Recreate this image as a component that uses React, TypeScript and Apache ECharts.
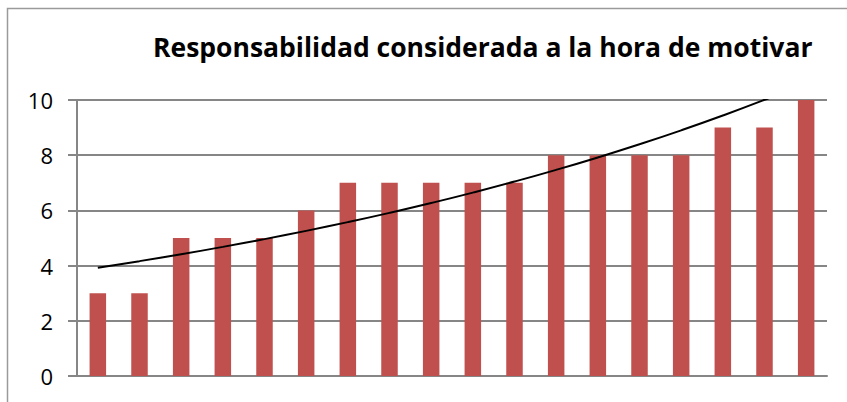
import React, { useEffect, useRef } from "react";
import * as echarts from "echarts";

const categories: string[] = ["1", "2", "3", "4", "5", "6", "7", "8", "9", "10", "11", "12", "13", "14", "15", "16", "17", "18"];
const values: number[] = [3, 3, 5, 5, 5, 6, 7, 7, 7, 7, 7, 8, 8, 8, 8, 9, 9, 10];
const yTicks: number[] = [0, 2, 4, 6, 8, 10];
const titleText = "Responsabilidad considerada a la hora de motivar";

// Exponential trendline (least squares on ln y), as Excel does
function expTrend(vals: number[]): number[] {
  const n = vals.length;
  const xs = vals.map((_, i) => i);
  const ls = vals.map((v) => Math.log(v));
  const mx = xs.reduce((a, b) => a + b, 0) / n;
  const my = ls.reduce((a, b) => a + b, 0) / n;
  let sxy = 0, sxx = 0;
  for (let i = 0; i < n; i++) {
    sxy += (xs[i] - mx) * (ls[i] - my);
    sxx += (xs[i] - mx) * (xs[i] - mx);
  }
  const b = sxy / sxx;
  const a = my - b * mx;
  return xs.map((x) => Math.exp(a + b * x));
}

export default function App() {
  const ref = useRef<HTMLDivElement>(null);
  useEffect(() => {
    document.body.style.margin = "0";
    const chart = echarts.init(ref.current!, null, { renderer: "svg" });
    const trend = expTrend(values);
    chart.setOption({
      animation: false,
      backgroundColor: "#ffffff",
      title: {
        text: titleText,
        left: 148,
        top: 28,
        textStyle: { fontFamily: "'Open Sans', sans-serif", fontWeight: "bold", fontSize: 26.5, color: "#000" },
      },
      graphic: [
        {
          type: "rect",
          shape: { x: 7.5, y: 8.5, width: 900, height: 500 },
          style: { fill: "none", stroke: "#9a9a9a", lineWidth: 1.5 },
          silent: true,
        },
      ],
      grid: { left: 77, right: 20, top: 100, bottom: 26, containLabel: false },
      xAxis: {
        type: "category",
        data: categories,
        axisLine: { show: true, lineStyle: { color: "#868686", width: 2 } },
        axisTick: { show: false },
        axisLabel: { show: false },
      },
      yAxis: {
        type: "value",
        min: 0,
        max: 10,
        interval: 2,
        axisLine: { show: true, lineStyle: { color: "#868686", width: 2 } },
        axisTick: { show: true, length: 9, lineStyle: { color: "#868686", width: 2 } },
        axisLabel: {
          margin: 24,
          fontSize: 22,
          color: "#000",
          fontFamily: "'Open Sans', sans-serif",
          formatter: (v: number) => (yTicks.includes(v) ? String(v) : ""),
        },
        splitLine: { show: true, lineStyle: { color: "#868686", width: 2 } },
      },
      series: [
        {
          type: "bar",
          data: values,
          barWidth: 16.5,
          itemStyle: { color: "#C0504D" },
        },
        {
          type: "line",
          data: trend,
          showSymbol: false,
          smooth: true,
          clip: true,
          lineStyle: { color: "#000", width: 2 },
          z: 5,
        },
      ],
    });
    return () => chart.dispose();
  }, []);
  return <div ref={ref} style={{ width: 847, height: 402 }} />;
}
